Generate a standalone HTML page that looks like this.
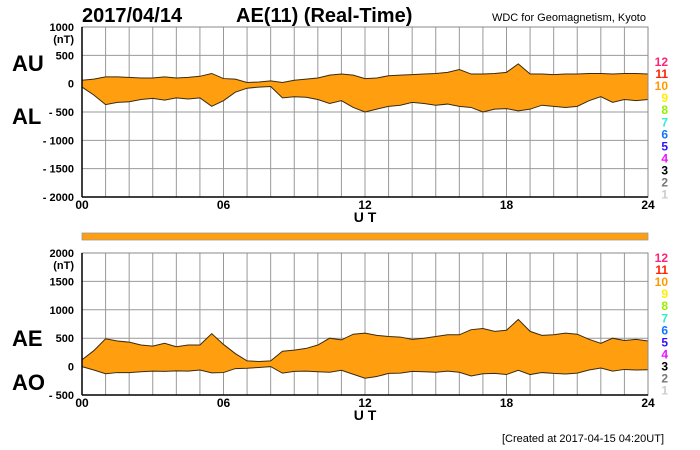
<!DOCTYPE html>
<html><head><meta charset="utf-8"><style>
html,body{margin:0;padding:0;background:#fff;}
svg{display:block;font-family:"Liberation Sans",sans-serif;}
</style></head><body>
<svg id="chart" width="700" height="450" viewBox="0 0 700 450">
<text x="82" y="22" font-size="20" font-weight="bold">2017/04/14</text>
<text x="236" y="22" font-size="20" font-weight="bold">AE(11) (Real-Time)</text>
<text x="646" y="21" font-size="11" text-anchor="end">WDC for Geomagnetism, Kyoto</text>
<text x="12" y="71" font-size="22" font-weight="bold">AU</text>
<text x="12" y="124" font-size="22" font-weight="bold">AL</text>
<text x="12" y="346" font-size="22" font-weight="bold">AE</text>
<text x="12" y="390" font-size="22" font-weight="bold">AO</text>
<text x="74" y="43" font-size="11" font-weight="bold" text-anchor="end">(nT)</text>
<text x="74" y="269" font-size="11" font-weight="bold" text-anchor="end">(nT)</text>
<rect x="82" y="233" width="566" height="7" fill="#ff9f10" stroke="#999" stroke-width="0.8"/>
<g id="top"></g><g id="bot"></g><g id="legend"></g>
<text x="664" y="442" font-size="11" text-anchor="end">[Created at 2017-04-15 04:20UT]</text>
</svg>
<script>
const hours = [0,0.5,1,1.5,2,2.5,3,3.5,4,4.5,5,5.5,6,6.5,7,7.5,8,8.5,9,9.5,10,10.5,11,11.5,12,12.5,13,13.5,14,14.5,15,15.5,16,16.5,17,17.5,18,18.5,19,19.5,20,20.5,21,21.5,22,22.5,23,23.5,24];
const au = [60,80,120,120,110,100,100,120,100,110,130,180,90,80,20,30,50,20,60,80,100,150,170,150,90,100,140,150,160,170,180,200,250,170,170,180,200,350,170,170,160,170,170,180,180,170,180,180,170];
const al = [-60,-200,-370,-330,-320,-280,-260,-290,-250,-270,-250,-400,-300,-150,-80,-60,-50,-250,-230,-240,-280,-350,-300,-420,-500,-450,-400,-380,-330,-350,-380,-360,-400,-420,-500,-450,-440,-480,-450,-380,-400,-420,-400,-300,-230,-330,-280,-300,-280];
const ae = [120,280,490,450,430,380,360,410,350,380,380,580,390,230,100,90,100,270,290,320,380,500,470,570,590,550,530,520,480,500,530,560,560,650,670,620,640,830,620,550,560,590,570,480,410,500,460,480,450];
const ao = [0,-60,-125,-105,-105,-90,-80,-85,-75,-80,-60,-110,-105,-35,-30,-15,0,-115,-85,-80,-90,-100,-65,-135,-205,-175,-120,-115,-85,-90,-100,-80,-100,-165,-125,-120,-140,-65,-140,-105,-120,-130,-115,-60,-25,-80,-50,-60,-55];
const topTicks = [1000,500,0,-500,-1000,-1500,-2000];
const topTickLabels = ["1000","500","0","- 500","- 1000","- 1500","- 2000"];
const botTicks = [2000,1500,1000,500,0,-500];
const botTickLabels = ["2000","1500","1000","500","0","- 500"];
const xTicks = [0,6,12,18,24];
const xTickLabels = ["00","06","12","18","24"];
const legendNums = ["12","11","10","9","8","7","6","5","4","3","2","1"];
const legendColors = ["#ff2277","#ff2200","#ff9900","#ffee00","#99ee00","#33eecc","#1177ff","#3311ff","#ee11ff","#000000","#777777","#cccccc"];

const NS="http://www.w3.org/2000/svg";
const X0=82,X1=648;
const xs=h=>X0+(X1-X0)*h/24;
function mk(tag,attrs,parent){const e=document.createElementNS(NS,tag);for(const k in attrs)e.setAttribute(k,attrs[k]);parent.appendChild(e);return e;}

function panel(g,yTop,yBot,vMax,vMin,ticks,tlabels,upper,lower,xlabY,name){
  const ys=v=>yTop+(vMax-v)*(yBot-yTop)/(vMax-vMin);
  for(let h=0;h<=24;h++){
    const l=mk('line',{x1:xs(h),x2:xs(h),y1:yTop,y2:yBot,stroke:'#999','stroke-width':1},g);
    
    
  }
  ticks.forEach((t,i)=>{
    const l=mk('line',{x1:X0,x2:X1,y1:ys(t),y2:ys(t),stroke:'#999','stroke-width':1},g);
    
    
    const tx=mk('text',{x:74,y:ys(t)+4,'font-size':11,'font-weight':'bold','text-anchor':'end'},g);
    tx.textContent=tlabels[i];
    
    
  });
  let d='M'+hours.map((h,i)=>xs(h)+','+ys(upper[i])).join(' L');
  for(let i=hours.length-1;i>=0;i--) d+=' L'+xs(hours[i])+','+ys(lower[i]);
  d+='Z';
  const area=mk('path',{d:d,fill:'#ff9f10',stroke:'none'},g);
  
  
  const l1=mk('path',{d:'M'+hours.map((h,i)=>xs(h)+','+ys(upper[i])).join(' L'),fill:'none',stroke:'#3a2a10','stroke-width':1},g);
  
  
  const l2=mk('path',{d:'M'+hours.map((h,i)=>xs(h)+','+ys(lower[i])).join(' L'),fill:'none',stroke:'#3a2a10','stroke-width':1},g);
  
  
  const fr=mk('rect',{x:X0,y:yTop,width:X1-X0,height:yBot-yTop,fill:'none',stroke:'#888','stroke-width':1},g);
  
  
  const ax=mk('line',{x1:X0,x2:X1,y1:yBot,y2:yBot,stroke:'#000','stroke-width':1.5},g);
  
  
  const ay=mk('line',{x1:X0,x2:X0,y1:yTop,y2:yBot,stroke:'#000','stroke-width':1.5},g);
  
  
  xTicks.forEach((t,i)=>{
    const tx=mk('text',{x:xs(t),y:xlabY,'font-size':12,'font-weight':'bold','text-anchor':'middle'},g);
    tx.textContent=xTickLabels[i];
    
    
  });
  const ut=mk('text',{x:365,y:xlabY+13,'font-size':14,'font-weight':'bold','text-anchor':'middle'},g);
  ut.textContent='U T';
  
  
}
panel(document.getElementById('top'),27,197,1000,-2000,topTicks,topTickLabels,au,al,209,'au-al');
panel(document.getElementById('bot'),253,395,2000,-500,botTicks,botTickLabels,ae,ao,407,'ae-ao');

const lg=document.getElementById('legend');
[66,262].forEach(y0=>{
  legendNums.forEach((n,i)=>{
    const t=mk('text',{x:668,y:y0+i*12.05,'font-size':12,'font-weight':'bold','text-anchor':'end',fill:legendColors[i]},lg);
    t.textContent=n;
    
    
  });
});
</script>
</body></html>
